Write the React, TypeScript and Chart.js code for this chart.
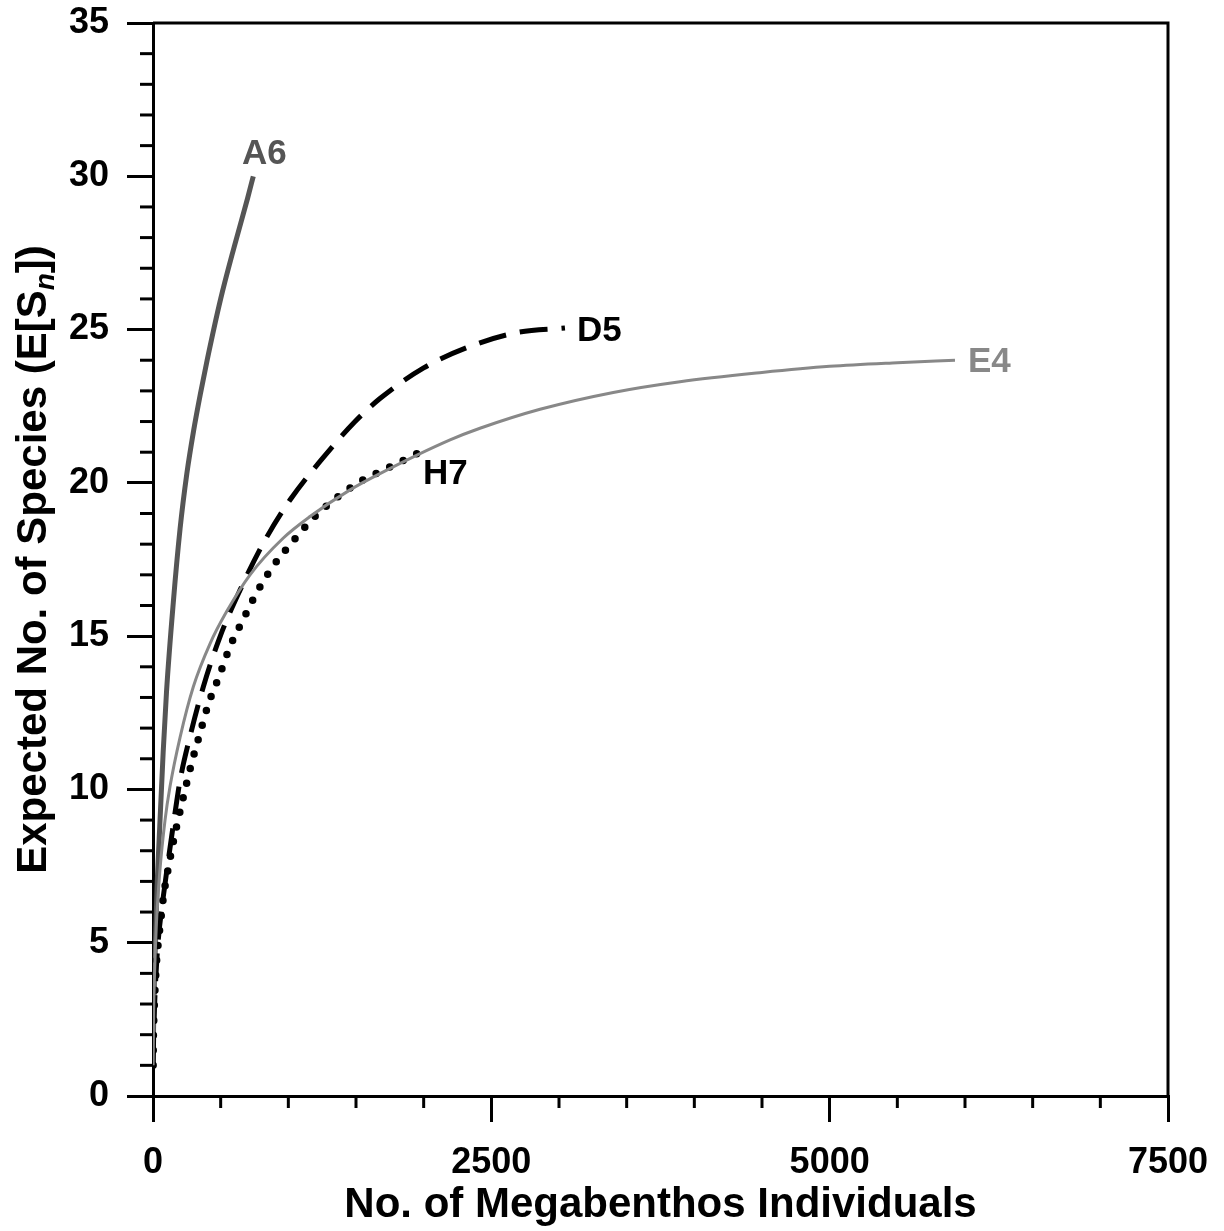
import React, { useEffect, useRef } from "react";
import { Chart, registerables } from "chart.js";
Chart.register(...registerables);

const FONT = '"Liberation Sans", Arial, sans-serif';

// Axis ranges / ticks
const xRange = [0, 7500];
const yRange = [0, 35];
const xMajorStep = 2500;
const xMinorStep = 500;
const yMajorStep = 5;
const yMinorStep = 1;

// Series: A6
const a6N = [1, 5, 15, 30, 50, 75, 100, 150, 200, 250, 300, 350, 400, 500, 600, 700, 741];
const a6S = [1, 2.5, 4.5, 6.8, 8.8, 11.2, 13.2, 16.1, 18.5, 20.3, 21.7, 22.9, 24.0, 26.0, 27.7, 29.3, 30];
// Series: E4
const e4N = [1, 5, 10, 25, 50, 89, 126, 200, 298, 421, 544, 717, 963, 1160, 1456, 1677, 2195, 2416, 2860, 3401, 3894, 4500, 5000, 5500, 5926];
const e4S = [1, 2.8, 3.8, 5.6, 7.3, 9.0, 10.1, 11.7, 13.35, 14.75, 15.8, 17.0, 18.2, 18.9, 19.77, 20.3, 21.4, 21.78, 22.4, 22.95, 23.3, 23.6, 23.8, 23.92, 24.0];
// Series: D5
const d5N = [1, 5, 12, 25, 39, 76, 126, 175, 200, 273, 372, 495, 643, 815, 1012, 1234, 1493, 1677, 2000, 2342, 2687, 3044];
const d5S = [1, 2, 3, 4.2, 5.1, 6.5, 8.1, 9.6, 10.3, 11.72, 13.35, 14.98, 16.5, 18.03, 19.44, 20.7, 22.0, 22.75, 23.75, 24.45, 24.9, 25.05];
// Series: H7
const h7N = [1, 3, 6, 10, 15, 21, 28, 39, 51, 64, 77, 95, 116, 137, 160, 185, 224, 286, 347, 409, 490, 569, 667, 766, 889, 1025, 1173, 1345, 1530, 1727, 1950];
const h7S = [1, 2.0, 2.5, 3.0, 3.5, 4.0, 4.5, 5.0, 5.5, 6.0, 6.5, 7.0, 7.5, 8.0, 8.5, 9.0, 9.75, 10.87, 11.83, 12.78, 13.7, 14.66, 15.55, 16.42, 17.29, 18.05, 18.8, 19.47, 20.04, 20.47, 20.95];

const seriesNames = ["E4", "D5", "H7", "A6"];

const zip = (xs: number[], ys: number[]) => xs.map((x, i) => ({ x, y: ys[i] }));

const endLabels: Record<string, { color: string; dx: number; dy: number; align: CanvasTextAlign }> = {
  A6: { color: "#555555", dx: 11, dy: -22, align: "center" },
  D5: { color: "#000000", dx: 12, dy: 3, align: "left" },
  E4: { color: "#888888", dx: 13, dy: 2, align: "left" },
  H7: { color: "#000000", dx: 6, dy: 21, align: "left" },
};

const decorPlugin = {
  id: "decor",
  afterDraw(chart: any) {
    const ctx = chart.ctx as CanvasRenderingContext2D;
    const { left, right, top, bottom } = chart.chartArea;
    const xs = chart.scales.x;
    const ys = chart.scales.y;
    ctx.save();
    ctx.strokeStyle = "#000";
    ctx.lineWidth = 3;
    ctx.lineCap = "butt";
    // minor ticks
    for (let v = yRange[0]; v <= yRange[1]; v += yMinorStep) {
      if (v % yMajorStep === 0) continue;
      const py = ys.getPixelForValue(v);
      ctx.beginPath();
      ctx.moveTo(left - 13, py);
      ctx.lineTo(left, py);
      ctx.stroke();
    }
    for (let v = xRange[0]; v <= xRange[1]; v += xMinorStep) {
      if (v % xMajorStep === 0) continue;
      const px = xs.getPixelForValue(v);
      ctx.beginPath();
      ctx.moveTo(px, bottom);
      ctx.lineTo(px, bottom + 12);
      ctx.stroke();
    }
    // top & right frame
    ctx.beginPath();
    ctx.moveTo(left, top);
    ctx.lineTo(right + 1.5, top);
    ctx.moveTo(right, top);
    ctx.lineTo(right, bottom);
    ctx.stroke();

    // end labels
    ctx.font = `bold 35px ${FONT}`;
    ctx.textBaseline = "middle";
    chart.data.datasets.forEach((ds: any) => {
      const cfg = endLabels[ds.label];
      if (!cfg) return;
      const last = ds.data[ds.data.length - 1];
      const px = xs.getPixelForValue(last.x) + cfg.dx;
      const py = ys.getPixelForValue(last.y) + cfg.dy;
      ctx.fillStyle = cfg.color;
      ctx.textAlign = cfg.align;
      ctx.fillText(ds.label, px, py);
    });

    // y title with subscript
    const cy = (top + bottom) / 2;
    const mainFont = `bold 42px ${FONT}`;
    const subFont = `italic bold 28px ${FONT}`;
    const p1 = "Expected No. of Species (E[S";
    const p2 = "n";
    const p3 = "])";
    ctx.font = mainFont;
    const w1 = ctx.measureText(p1).width;
    const w3 = ctx.measureText(p3).width;
    ctx.font = subFont;
    const w2 = ctx.measureText(p2).width;
    const total = w1 + w2 + w3;
    ctx.translate(46, cy);
    ctx.rotate(-Math.PI / 2);
    ctx.fillStyle = "#000";
    ctx.textAlign = "left";
    ctx.textBaseline = "alphabetic";
    let x0 = -total / 2;
    ctx.font = mainFont;
    ctx.fillText(p1, x0, 0);
    x0 += w1;
    ctx.font = subFont;
    ctx.fillText(p2, x0, 8);
    x0 += w2;
    ctx.font = mainFont;
    ctx.fillText(p3, x0, 0);
    ctx.restore();
  },
};

export default function App() {
  const ref = useRef<HTMLCanvasElement | null>(null);
  useEffect(() => {
    document.body.style.margin = "0";
    const canvas = ref.current;
    if (!canvas) return;
    const styles: Record<string, any> = {
      E4: { borderColor: "#888888", borderWidth: 3 },
      D5: { borderColor: "#000000", borderWidth: 5, borderDash: [28, 14], borderCapStyle: "butt" },
      H7: { borderColor: "#000000", borderWidth: 7.5, borderDash: [0, 15], borderCapStyle: "round" },
      A6: { borderColor: "#555555", borderWidth: 5 },
    };
    const dataMap: Record<string, { x: number; y: number }[]> = {
      E4: zip(e4N, e4S),
      D5: zip(d5N, d5S),
      H7: zip(h7N, h7S),
      A6: zip(a6N, a6S),
    };
    const chart = new Chart(canvas, {
      type: "line",
      data: {
        datasets: seriesNames.map((name) => ({
          label: name,
          data: dataMap[name],
          pointRadius: 0,
          fill: false,
          cubicInterpolationMode: "monotone",
          ...styles[name],
        })),
      },
      options: {
        animation: false,
        responsive: false,
        maintainAspectRatio: false,
        layout: { padding: { top: 23, right: 56, left: 0, bottom: 0 } },
        plugins: { legend: { display: false }, tooltip: { enabled: false }, title: { display: false } },
        scales: {
          x: {
            type: "linear",
            min: xRange[0],
            max: xRange[1],
            afterFit: (s: any) => {
              s.height = 135;
              s.paddingLeft = 0;
              s.paddingRight = 0;
            },
            ticks: {
              stepSize: xMajorStep,
              color: "#000",
              padding: 19,
              font: { family: FONT, size: 36, weight: "bold" },
              maxRotation: 0,
              callback: (v: any) => String(v),
            },
            grid: { drawOnChartArea: false, drawTicks: true, tickLength: 26, color: "#000", lineWidth: 3 },
            border: { display: true, color: "#000", width: 3 },
            title: {
              display: true,
              text: "No. of Megabenthos Individuals",
              color: "#000",
              font: { family: FONT, size: 42, weight: "bold", lineHeight: 1 },
              padding: { top: 0, bottom: 5 },
            },
          },
          y: {
            type: "linear",
            min: yRange[0],
            max: yRange[1],
            afterFit: (s: any) => {
              s.width = 153;
              s.paddingTop = 0;
              s.paddingBottom = 0;
            },
            ticks: {
              stepSize: yMajorStep,
              color: "#000",
              padding: 18,
              font: { family: FONT, size: 36, weight: "bold" },
              callback: (v: any) => String(v),
            },
            grid: { drawOnChartArea: false, drawTicks: true, tickLength: 26, color: "#000", lineWidth: 3 },
            border: { display: true, color: "#000", width: 3 },
          },
        },
      } as any,
      plugins: [decorPlugin],
    });
    return () => chart.destroy();
  }, []);
  return <canvas ref={ref} width={1224} height={1231} style={{ display: "block" }} />;
}
